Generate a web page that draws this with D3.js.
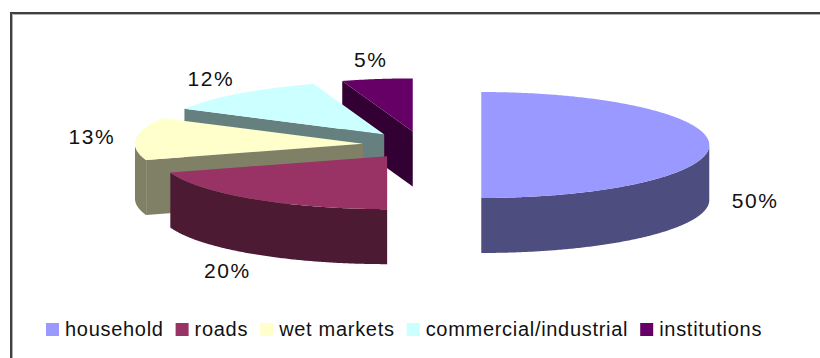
<!DOCTYPE html>
<html>
<head>
<meta charset="utf-8">
<script src="https://cdn.jsdelivr.net/npm/d3@7"></script>
<style>
  html, body { margin: 0; padding: 0; background: #fff; }
  svg { display: block; }
  text { font-family: Arial, "Liberation Sans", sans-serif; }
</style>
</head>
<body>
<svg id="chart" width="820" height="358"></svg>
<script>
// ---- data ----
const categories = ["household", "roads", "wet markets", "commercial/industrial", "institutions"];
const values = [50, 20, 13, 12, 5];
const valueLabels = ["50%", "20%", "13%", "12%", "5%"];
const topColors = ["#9999FF", "#993366", "#FFFFCC", "#CCFFFF", "#660066"];

// ---- layout ----
const W = 820, H = 358;
const cx = 422, cy = 145;       // pie centre (before explosion)
const rx = 228, ry = 53;        // ellipse radii of top face
const depth = 55;               // thickness
const explode = 0.26;           // explosion fraction of radius

const svg = d3.select("#chart");
svg.append("rect").attr("width", W).attr("height", H).attr("fill", "#fff");

// frame (cropped on right and bottom)
svg.append("rect").attr("x", 11).attr("y", 13).attr("width", 1000).attr("height", 1000)
  .attr("fill", "none").attr("stroke", "#404040").attr("stroke-width", 2);
svg.append("path").attr("d", "M12.5,1000V14.5H1000")
  .attr("fill", "none").attr("stroke", "#b0b0b0").attr("stroke-width", 1);

const pie = d3.pie().sort(null).value(d => d).startAngle(0).endAngle(2 * Math.PI);
const arcs = pie(values);

function pt(ox, oy, a, dz) {
  return [ox + rx * Math.sin(a), oy - ry * Math.cos(a) + (dz || 0)];
}
function arcPts(ox, oy, a0, a1, dz) {
  const n = Math.max(2, Math.ceil(Math.abs(a1 - a0) / (Math.PI / 360)));
  const out = [];
  for (let i = 0; i <= n; i++) out.push(pt(ox, oy, a0 + (a1 - a0) * i / n, dz));
  return out;
}
const line = d3.line().curve(d3.curveLinear);
const poly = pts => line(pts) + "Z";

const slices = arcs.map((a, i) => {
  const mid = (a.startAngle + a.endAngle) / 2;
  const ox = cx + explode * rx * Math.sin(mid);
  const oy = cy - explode * ry * Math.cos(mid);
  return { i, a0: a.startAngle, a1: a.endAngle, mid, ox, oy };
});

// painter's order: back (smaller apex y) first
const order = slices.slice().sort((p, q) => p.oy - q.oy);
const g = svg.append("g");

order.forEach(s => {
  const top = d3.rgb(topColors[s.i]);
  const side = d3.rgb(top.r * 0.5, top.g * 0.5, top.b * 0.5).formatHex();
  const sg = g.append("g");
  // cut faces
  const eps = 1e-6;
  if (Math.sin(s.a0) < -eps) {
    const r = pt(s.ox, s.oy, s.a0);
    sg.append("path").attr("d", poly([[s.ox, s.oy], r, [r[0], r[1] + depth], [s.ox, s.oy + depth]]))
      .attr("fill", side);
  }
  if (Math.sin(s.a1) > eps) {
    const r = pt(s.ox, s.oy, s.a1);
    sg.append("path").attr("d", poly([[s.ox, s.oy], r, [r[0], r[1] + depth], [s.ox, s.oy + depth]]))
      .attr("fill", side);
  }
  // outer wall (front half only)
  const w0 = Math.max(s.a0, Math.PI / 2), w1 = Math.min(s.a1, 3 * Math.PI / 2);
  if (w1 > w0) {
    const upper = arcPts(s.ox, s.oy, w0, w1, 0);
    const lower = arcPts(s.ox, s.oy, w0, w1, depth).reverse();
    sg.append("path").attr("d", poly(upper.concat(lower))).attr("fill", side);
  }
  // top face
  const topPts = [[s.ox, s.oy]].concat(arcPts(s.ox, s.oy, s.a0, s.a1, 0));
  sg.append("path").attr("d", poly(topPts)).attr("fill", top.formatHex());
});

// value labels
slices.forEach(s => {
  const sn = Math.sin(s.mid), cs = Math.cos(s.mid);
  const lx = s.ox + (rx + 45) * sn;
  const ly = s.oy - (ry + 20) * cs + (cs <= 1e-6 ? depth : 0);
  svg.append("text")
    .attr("x", lx + 0.8).attr("y", ly + 7.5)
    .attr("text-anchor", "middle")
    .attr("font-size", 21)
    .attr("letter-spacing", "1.6px")
    .attr("fill", "#111")
    .text(valueLabels[s.i]);
});

// legend
let x = 46;
const legY = 323;
categories.forEach((c, i) => {
  svg.append("rect").attr("x", x).attr("y", legY).attr("width", 13).attr("height", 13)
    .attr("fill", topColors[i]);
  const t = svg.append("text").attr("x", x + 19).attr("y", legY + 13)
    .attr("font-size", 20).attr("letter-spacing", "0.7px").attr("fill", "#111").text(c);
  x += 19 + t.node().getComputedTextLength() + 12;
});
</script>
</body>
</html>
